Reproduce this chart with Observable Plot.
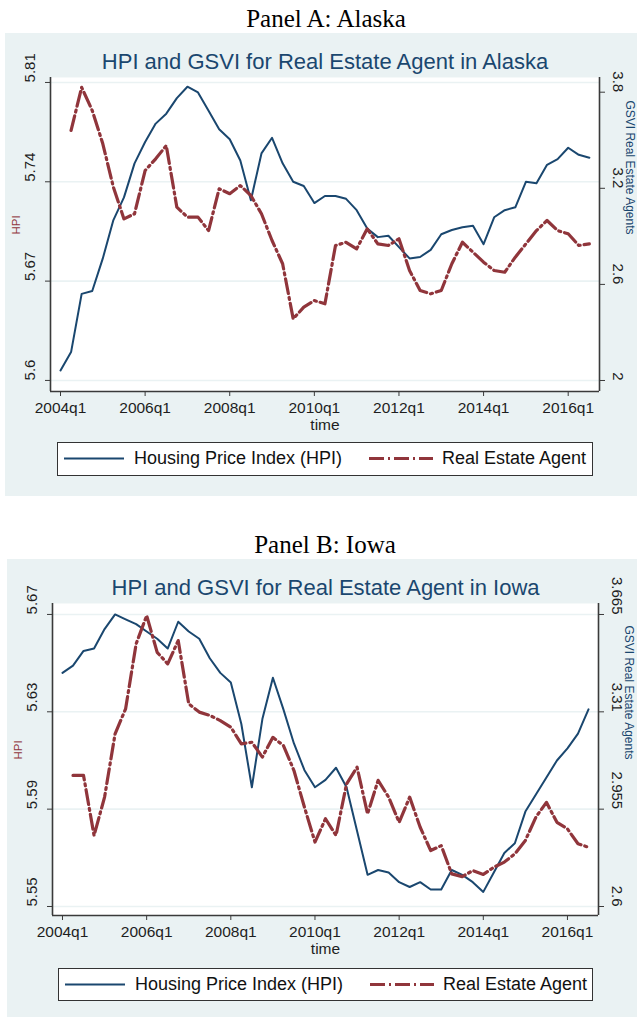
<!DOCTYPE html>
<html><head><meta charset="utf-8">
<script src="https://cdn.jsdelivr.net/npm/d3@7"></script>
<script src="https://cdn.jsdelivr.net/npm/@observablehq/plot@0.6"></script>
<style>
html,body{margin:0;padding:0;background:#fff;}
body{width:637px;height:1017px;position:relative;overflow:hidden;font-family:"Liberation Sans",Arial,sans-serif;}
.ptitle{position:absolute;font-family:"Liberation Serif","Times New Roman",serif;font-size:25px;line-height:25px;color:#000;white-space:nowrap;transform:translateX(-50%);}
.panel{position:absolute;background:#eaf2f3;overflow:hidden;}
.panel svg{position:absolute;left:0;top:0;}
.legend{position:absolute;background:#fff;border:1px solid #333;box-sizing:border-box;}
.legend svg{position:absolute;top:0;}
.legend span{position:absolute;top:0;line-height:31px;font-size:18px;color:#111;white-space:nowrap;}
</style></head><body>
<script>
// ---------- data ----------
const xTickIdx = [0, 8, 16, 24, 32, 40, 48];
const xTickLabels = ["2004q1", "2006q1", "2008q1", "2010q1", "2012q1", "2014q1", "2016q1"];

// Alaska (quarterly, 2004q1 .. 2016q3)
const alaskaHPI = [5.607,5.620,5.661,5.663,5.686,5.713,5.729,5.753,5.768,5.781,5.788,5.799,5.807,5.803,5.790,5.777,5.770,5.755,5.727,5.760,5.771,5.753,5.740,5.737,5.725,5.730,5.730,5.728,5.720,5.707,5.701,5.702,5.694,5.686,5.687,5.692,5.703,5.706,5.708,5.709,5.696,5.715,5.720,5.722,5.740,5.739,5.752,5.756,5.764,5.759,5.757];
const alaskaREA = [null,3.561,3.830,3.686,3.478,3.207,3.009,3.041,3.311,3.384,3.467,3.082,3.020,3.020,2.936,3.197,3.166,3.217,3.155,3.041,2.874,2.729,2.385,2.458,2.499,2.479,2.843,2.863,2.822,2.947,2.853,2.843,2.885,2.687,2.562,2.541,2.562,2.729,2.863,2.801,2.739,2.687,2.676,2.770,2.853,2.936,2.999,2.936,2.916,2.843,2.853];
const alaskaLeftTicks = [5.6, 5.67, 5.74, 5.81];
const alaskaLeftLabels = ["5.6", "5.67", "5.74", "5.81"];
const alaskaRightTicks = [2, 2.6, 3.2, 3.8];
const alaskaRightLabels = ["2", "2.6", "3.2", "3.8"];

// Iowa
const iowaHPI = [5.646,5.649,5.655,5.656,5.664,5.670,5.668,5.666,5.663,5.660,5.656,5.667,5.663,5.660,5.652,5.646,5.642,5.625,5.599,5.627,5.644,5.631,5.617,5.606,5.599,5.602,5.607,5.599,5.581,5.563,5.565,5.564,5.560,5.558,5.560,5.557,5.557,5.565,5.563,5.560,5.556,5.564,5.572,5.576,5.589,5.596,5.603,5.610,5.615,5.621,5.631];
const iowaREA = [null,3.078,3.078,2.859,2.999,3.230,3.321,3.558,3.661,3.527,3.485,3.570,3.339,3.309,3.297,3.278,3.254,3.193,3.199,3.145,3.217,3.187,3.096,2.962,2.835,2.920,2.859,3.047,3.108,2.938,3.060,2.999,2.907,2.999,2.889,2.804,2.822,2.719,2.709,2.731,2.717,2.743,2.762,2.792,2.841,2.926,2.980,2.907,2.883,2.829,2.816];
const iowaLeftTicks = [5.55, 5.59, 5.63, 5.67];
const iowaLeftLabels = ["5.55", "5.59", "5.63", "5.67"];
const iowaRightTicks = [2.6, 2.955, 3.31, 3.665];
const iowaRightLabels = ["2.6", "2.955", "3.31", "3.665"];

const HPI_COLOR = "#1a476f";
const REA_COLOR = "#90353b";
const DASH = "15,4,2,4";
const FONT = "'Liberation Sans', Arial, sans-serif";

function addTitle(text, x, y) {
  const d = document.createElement("div");
  d.className = "ptitle";
  d.textContent = text;
  d.style.left = x + "px";
  d.style.top = y + "px";
  document.body.appendChild(d);
}

function makePanel(o) {
  const div = document.createElement("div");
  div.className = "panel";
  Object.assign(div.style, {left: o.left + "px", top: o.top + "px", width: o.width + "px", height: o.height + "px"});
  document.body.appendChild(div);

  const hpiData = o.hpi.map((v, i) => ({i, v}));
  const reaData = o.rea.map((v, i) => ({i, v})).filter(d => d.v != null);
  const common = {
    width: o.width, height: o.height,
    marginLeft: o.mL, marginRight: o.mR, marginTop: o.mT, marginBottom: o.mB,
    x: {type: "linear", domain: o.xDom, axis: null},
    style: {background: "transparent", overflow: "visible", fontFamily: FONT, color: "#1e1e1e"}
  };

  const left = Plot.plot({
    ...common,
    y: {domain: o.yL, axis: null},
    marks: [
      Plot.frame({fill: "white", stroke: null}),
      Plot.ruleY(o.leftTicks, {stroke: "#eaf2f3", strokeWidth: 1.6}),
      Plot.line(hpiData, {x: "i", y: "v", stroke: HPI_COLOR, strokeWidth: 2, strokeLinejoin: "round"}),
      Plot.ruleX([o.xDom[0]], {stroke: "#3a3a3a", strokeWidth: 1.6}),
      Plot.ruleY([o.yL[0]], {stroke: "#3a3a3a", strokeWidth: 1.6}),
      Plot.axisX(xTickIdx, {anchor: "bottom", tickSize: 5, tickPadding: 5, fontSize: 15.5, stroke: "#3a3a3a",
        tickFormat: (d) => xTickLabels[xTickIdx.indexOf(d)], label: null}),
      Plot.axisY(o.leftTicks, {anchor: "left", tickSize: 5, tickFormat: () => "", stroke: "#3a3a3a", label: null}),
      Plot.text(o.leftTicks, {y: d => d, text: (d, k) => o.leftLabels[k], frameAnchor: "left", dx: -20, rotate: -90, fontSize: 15}),
      Plot.text(["time"], {text: d => d, frameAnchor: "bottom", dy: 34, lineAnchor: "middle", fontSize: 15.5}),
      Plot.text(["HPI"], {text: d => d, frameAnchor: "left", dx: -34, rotate: -90, fontSize: 11.5, fill: REA_COLOR}),
      Plot.text([o.title], {text: d => d, frameAnchor: "top", dy: -9, lineAnchor: "bottom", fontSize: 22, fill: HPI_COLOR})
    ]
  });
  div.appendChild(left);

  const right = Plot.plot({
    ...common,
    y: {domain: o.yR, axis: null},
    marks: [
      Plot.ruleX([o.xDom[1]], {stroke: "#3a3a3a", strokeWidth: 1.6}),
      Plot.line(reaData, {x: "i", y: "v", stroke: REA_COLOR, strokeWidth: 3.2, strokeDasharray: DASH, strokeLinejoin: "round"}),
      Plot.axisY(o.rightTicks, {anchor: "right", tickSize: 5, tickFormat: () => "", stroke: "#3a3a3a", label: null}),
      Plot.text(o.rightTicks, {y: d => d, text: (d, k) => o.rightLabels[k], frameAnchor: "right", dx: 18, rotate: 90, fontSize: 15}),
      Plot.text(["GSVI Real Estate Agents"], {text: d => d, frameAnchor: "right", dx: 30, rotate: 90, fontSize: 12, fill: HPI_COLOR})
    ]
  });
  div.appendChild(right);

  // legend
  const lg = document.createElement("div");
  lg.className = "legend";
  Object.assign(lg.style, {left: o.lg.left + "px", top: o.lg.top + "px", width: o.lg.width + "px", height: o.lg.height + "px"});
  lg.innerHTML =
    `<svg style="left:6px" width="62" height="31"><line x1="0" x2="60" y1="15.5" y2="15.5" stroke="${HPI_COLOR}" stroke-width="2"/></svg>` +
    `<span style="left:76px">Housing Price Index (HPI)</span>` +
    `<svg style="left:311px" width="66" height="31"><line x1="0" x2="64" y1="15.5" y2="15.5" stroke="${REA_COLOR}" stroke-width="3.2" stroke-dasharray="${DASH}"/></svg>` +
    `<span style="left:384px">Real Estate Agent</span>`;
  div.appendChild(lg);
}

addTitle("Panel A: Alaska", 326, 6);
makePanel({
  left: 5, top: 33, width: 632, height: 463,
  mL: 45, mR: 38, mT: 44, mB: 105,
  xDom: [-0.9455, 50.96],
  yL: [5.5922, 5.8135], yR: [1.9313, 3.8918],
  hpi: alaskaHPI, rea: alaskaREA,
  leftTicks: alaskaLeftTicks, leftLabels: alaskaLeftLabels,
  rightTicks: alaskaRightTicks, rightLabels: alaskaRightLabels,
  title: "HPI and GSVI for Real Estate Agent in Alaska",
  lg: {left: 52, top: 409, width: 536, height: 34}
});

addTitle("Panel B: Iowa", 325, 532);
makePanel({
  left: 7, top: 559, width: 630, height: 458,
  mL: 45, mR: 39, mT: 44, mB: 102,
  xDom: [-0.95, 50.95],
  yL: [5.5463, 5.6745], yR: [2.5672, 3.7051],
  hpi: iowaHPI, rea: iowaREA,
  leftTicks: iowaLeftTicks, leftLabels: iowaLeftLabels,
  rightTicks: iowaRightTicks, rightLabels: iowaRightLabels,
  title: "HPI and GSVI for Real Estate Agent in Iowa",
  lg: {left: 51, top: 409, width: 535, height: 33}
});
</script>
</body></html>
